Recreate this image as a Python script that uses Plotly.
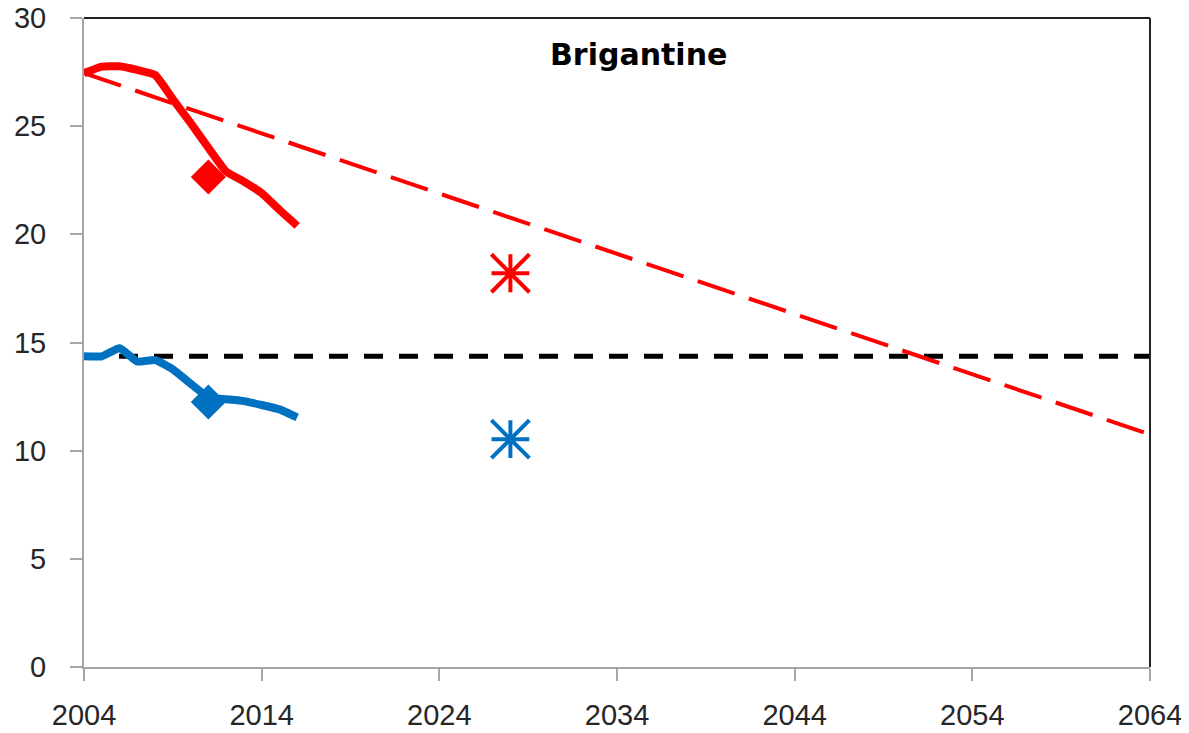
import plotly.graph_objects as go

# ---- data ----
years = list(range(2004, 2017))
red_series = [27.45, 27.75, 27.77, 27.6, 27.37, 26.25, 25.15, 24.0, 22.9, 22.44, 21.9, 21.13, 20.39]
blue_series = [14.36, 14.36, 14.73, 14.12, 14.19, 13.76, 13.1, 12.47, 12.38, 12.29, 12.11, 11.91, 11.54]

diamond_year = [2011]
red_diamond = [22.65]
blue_diamond = [12.25]

star_year = [2028]
red_star = [18.2]
blue_star = [10.53]

trend_years = [2004, 2064]
red_trend = [27.45, 10.75]
ref_years = [2004, 2064]
ref_level = [14.36, 14.36]

x_ticks = [2004, 2014, 2024, 2034, 2044, 2054, 2064]
y_ticks = [0, 5, 10, 15, 20, 25, 30]

RED = "#FF0000"
BLUE = "#0070C0"

fig = go.Figure()

fig.add_trace(go.Scatter(x=ref_years, y=ref_level, mode="lines",
                         line=dict(color="black", width=5, dash="19px,16px")))
fig.add_trace(go.Scatter(x=trend_years, y=red_trend, mode="lines",
                         line=dict(color=RED, width=4, dash="39px,15px")))
fig.add_trace(go.Scatter(x=years, y=red_series, mode="lines",
                         line=dict(color=RED, width=8, shape="spline", smoothing=0.4)))
fig.add_trace(go.Scatter(x=years, y=blue_series, mode="lines",
                         line=dict(color=BLUE, width=8, shape="spline", smoothing=0.4)))
fig.add_trace(go.Scatter(x=diamond_year, y=red_diamond, mode="markers",
                         marker=dict(symbol="diamond", size=27, color=RED)))
fig.add_trace(go.Scatter(x=diamond_year, y=blue_diamond, mode="markers",
                         marker=dict(symbol="diamond", size=27, color=BLUE)))
for yv, col in ((red_star, RED), (blue_star, BLUE)):
    fig.add_trace(go.Scatter(x=star_year, y=yv, mode="markers",
                             marker=dict(symbol="x-thin-open", size=38, color=col,
                                         line=dict(color=col, width=4))))
    fig.add_trace(go.Scatter(x=star_year, y=yv, mode="markers",
                             marker=dict(symbol="cross-thin-open", size=27, color=col,
                                         line=dict(color=col, width=4))))

fig.add_annotation(text="<b>Brigantine</b>", xref="paper", yref="paper",
                   x=0.52, y=0.943, xanchor="center", yanchor="middle",
                   showarrow=False,
                   font=dict(family="DejaVu Sans", size=30, color="black"))

# top and right borders (dark)
fig.add_shape(type="line", xref="paper", yref="paper", x0=0, x1=1, y0=1, y1=1,
              line=dict(color="#222222", width=2))
fig.add_shape(type="line", xref="paper", yref="paper", x0=1, x1=1, y0=0, y1=1,
              line=dict(color="#222222", width=2))

axis_font = dict(family="Liberation Sans", size=29, color="#262626")
fig.update_xaxes(range=[2004, 2064], tickvals=x_ticks, showgrid=False, zeroline=False,
                 showline=True, linecolor="#A6A6A6", linewidth=2, automargin=False,
                 ticks="outside", ticklen=12, tickwidth=2, tickcolor="#A6A6A6",
                 tickfont=axis_font, ticklabelstandoff=9, ticklabeloverflow="allow")
fig.update_yaxes(range=[0, 30], tickvals=y_ticks, showgrid=False, zeroline=False,
                 showline=True, linecolor="#A6A6A6", linewidth=2, automargin=False,
                 ticks="outside", ticklen=12, tickwidth=2, tickcolor="#A6A6A6",
                 tickfont=axis_font, ticklabelstandoff=18, ticklabeloverflow="allow")

# page body has an 8px margin; size the figure so the plot area lands where the reference's does
fig.update_layout(width=1181, height=725, showlegend=False,
                  plot_bgcolor="white", paper_bgcolor="white",
                  margin=dict(l=76, r=39, t=10, b=66))

fig.write_html("out.html")
